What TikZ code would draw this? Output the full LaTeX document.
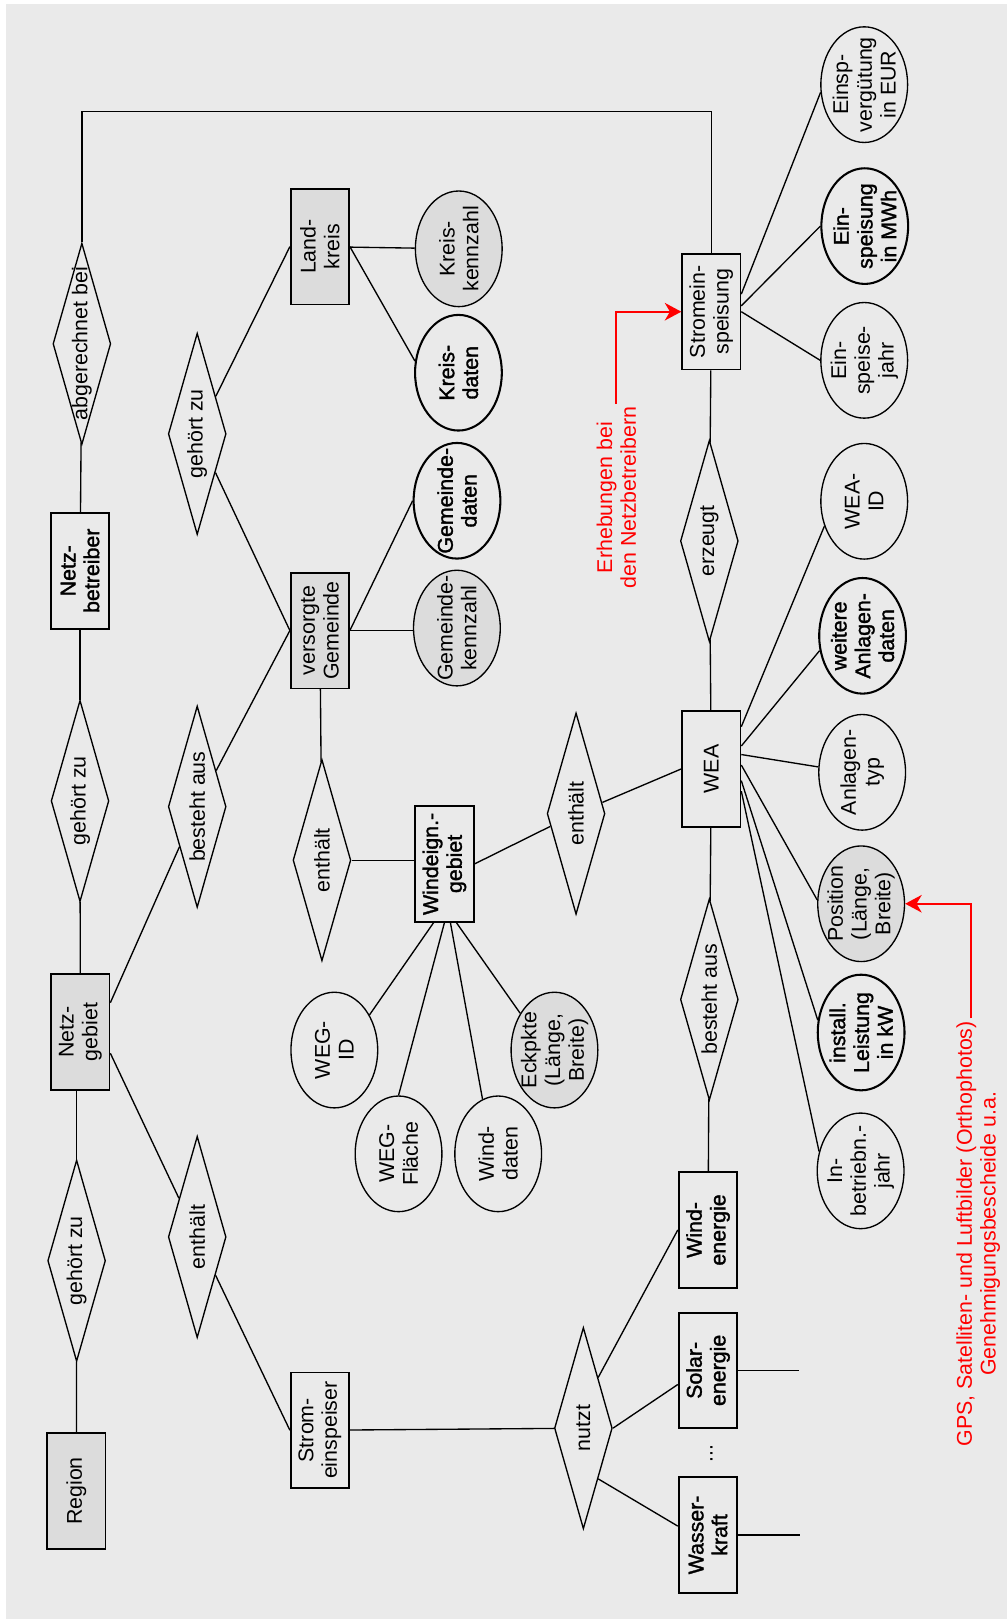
\documentclass[tikz,border=0pt]{standalone}
\usepackage{fontspec}
\setmainfont{Liberation Sans}
\newfontfamily\boldish[FakeBold=1.5]{Liberation Sans}
\usepackage{tikz}
\usetikzlibrary{arrows.meta,shapes.geometric,calc}

\definecolor{canvasgrey}{RGB}{234,234,234}
\definecolor{entitygrey}{RGB}{220,220,220}
\newcommand{\diagramfont}{\fontsize{10.35pt}{11.5pt}\selectfont}
\newcommand{\strongfont}{\fontsize{10.35pt}{11.5pt}\boldish}

\begin{document}
\begin{tikzpicture}[
    rotate=90, transform shape, x=0.5pt, y=-0.5pt,
    font=\diagramfont, line width=0.65pt,
    entity/.style={rectangle, draw, minimum width=56pt, minimum height=28.25pt, inner sep=0pt, align=center, line width=0.8pt},
    strong/.style={line width=1pt, font=\strongfont},
    grey/.style={fill=entitygrey},
    rel/.style={diamond, draw, minimum width=97.5pt, minimum height=28pt, inner sep=0pt, label={center:{#1}}},
    blob/.style={ellipse, draw, minimum width=56pt, minimum height=42pt, inner sep=0pt},
    attr/.style={blob, label={[align=center]center:{#1}}},
    battr/.style={blob, line width=1pt, label={[align=center, font=\strongfont]center:{#1}}},
    note/.style={text=red, align=center, inner sep=1pt},
    source/.style={red, line width=1pt, -{Stealth[length=8pt, width=8.5pt, inset=2.5pt]}}
]
    \useasboundingbox (0,0) rectangle (1568,975);
    \fill[canvasgrey] (0,5.5) rectangle (1564,975);

    % Entities
    \node[entity, grey] (region) at (124,74) {Region};
    \node[entity, grey] (netzgebiet) at (568.4,77.8) {Netz-\\gebiet};
    \node[entity, strong] (netzbetreiber) at (1015.2,77.5) {Netz-\\betreiber};
    \node[entity] (stromeinspeiser) at (182.8,309.8) {Strom-\\einspeiser};
    \node[entity, grey] (gemeinde) at (957.3,309.8) {versorgte\\Gemeinde};
    \node[entity, grey] (landkreis) at (1329.1,309.8) {Land-\\kreis};
    \node[entity, strong] (windeign) at (731.3,430.4) {Windeign.-\\gebiet};
    \node[entity] (wea) at (823.3,688.9) {WEA};
    \node[entity] (einspeisung) at (1266.1,688.9) {Stromein-\\speisung};
    \node[entity, strong] (windenergie) at (376.8,685.7) {Wind-\\energie};
    \node[entity, strong] (solar) at (240.8,685.7) {Solar-\\energie};
    \node[entity, strong] (wasser) at (81.4,685.7) {Wasser-\\kraft};
    \node (mehr) at (160.6,689) {...};

    % Relationships
    \node[rel=gehört zu] (gehoertRegion) at (347,74.2) {};
    \node[rel=gehört zu] (gehoertNetz) at (792.3,77.5) {};
    \node[rel=abgerechnet bei] (abgerechnet) at (1235,79.3) {};
    \node[rel=enthält] (enthaeltNetz) at (370,191) {};
    \node[rel=besteht aus] (bestehtNetz) at (786.7,191) {};
    \node[rel=gehört zu] (gehoertKreis) at (1147.8,191) {};
    \node[rel=enthält] (enthaeltGemeinde) at (734.9,311.8) {};
    \node[rel=enthält] (enthaeltGebiet) at (780,557.9) {};
    \node[rel=erzeugt] (erzeugt) at (1044,687) {};
    \node[rel=besteht aus] (bestehtWEA) at (600,687) {};
    \node[rel=nutzt] (nutzt) at (184.8,565) {};

    % Attributes
    \node[attr={Kreis-\\kennzahl}, grey] (kreiskennzahl) at (1327,444.3) {};
    \node[battr={Kreis-\\daten}] (kreisdaten) at (1207,444) {};
    \node[battr={Gemeinde-\\daten}] (gemeindedaten) at (1083,442.6) {};
    \node[attr={Gemeinde-\\kennzahl}, grey] (gemeindekennzahl) at (959.7,442.5) {};
    \node[attr={WEG-\\ID}] (wegid) at (551,323.8) {};
    \node[attr={WEG-\\Fläche}] (wegflaeche) at (450.5,386) {};
    \node[attr={Wind-\\daten}] (winddaten) at (450.5,482.5) {};
    \node[attr={Eckpkte\\(Länge,\\Breite)}, grey] (eckpunkte) at (551,537) {};
    \node[attr={Einsp-\\vergütung\\in EUR}] (verguetung) at (1486,837) {};
    \node[battr={Ein-\\speisung\\in MWh}] (einspmenge) at (1349,837.5) {};
    \node[attr={Ein-\\speise-\\jahr}] (einspjahr) at (1219,837) {};
    \node[attr={WEA-\\ID}] (weaid) at (1082.5,837) {};
    \node[battr={weitere\\Anlagen-\\daten}] (anlagendaten) at (952.2,835.4) {};
    \node[attr={Anlagen-\\typ}] (anlagentyp) at (820,835) {};
    \node[attr={Position\\(Länge,\\Breite)}, grey] (position) at (692.7,834) {};
    \node[battr={install.\\Leistung\\in kW}] (leistung) at (568,834) {};
    \node[attr={In-\\betriebn.-\\jahr}] (inbetriebnahme) at (434,833.5) {};

    \coordinate (abrechnung) at (1460.3,79.3);
    \coordinate (solarende) at (240.8,773.4);
    \coordinate (wasserende) at (81.4,775.2);

    % Connections
    \draw (region) -- (gehoertRegion);
    \draw (gehoertRegion) -- (gehoertRegion -| netzgebiet.west);
    \draw (netzgebiet) -- (gehoertNetz);
    \draw (gehoertNetz) -- (netzbetreiber);
    \draw (netzbetreiber) -- (abgerechnet);
    \draw (abgerechnet) -- (abrechnung) |- (einspeisung);
    \draw ($(netzgebiet.south)!0.36!(netzgebiet.south west)$) -- (enthaeltNetz);
    \draw (enthaeltNetz) -- (stromeinspeiser.north);
    \draw (stromeinspeiser) -- (nutzt);
    \draw (nutzt.south east) -- (windenergie.north);
    \draw (nutzt.south) -- ($(solar.north)!0.24!(solar.north west)$);
    \draw (nutzt.south west) -- ($(wasser.north)!0.15!(wasser.north east)$);
    \draw (solar) -- (solarende);
    \draw (wasser) -- (wasserende);
    \draw ($(netzgebiet.south)!0.5!(netzgebiet.south east)$) -- (bestehtNetz);
    \draw (bestehtNetz) -- (gemeinde.north);
    \draw (gehoertKreis) -- (gemeinde.north);
    \draw (gehoertKreis) -- (landkreis.north);
    \draw (landkreis) -- (kreiskennzahl);
    \draw (landkreis.south) -- (kreisdaten.75);
    \draw (gemeinde.south) -- (gemeindedaten.north);
    \draw (gemeinde) -- (gemeinde |- gemeindekennzahl.north);
    \draw (gemeinde) -- (enthaeltGemeinde);
    \draw (enthaeltGemeinde) -- (enthaeltGemeinde |- windeign.north);
    \draw ($(windeign.west)!0.36!(windeign.north west)$) -- (wegid.-45);
    \draw (windeign.west) -- (wegflaeche.east);
    \draw ($(windeign.west)!0.2!(windeign.south west)$) -- (winddaten.16);
    \draw ($(windeign.west)!0.4!(windeign.south west)$) -- (eckpunkte.43);
    \draw (windeign.south) -- (enthaeltGebiet);
    \draw (enthaeltGebiet) -- (wea.north);
    \draw (erzeugt) -- (einspeisung);
    \draw (erzeugt) -- (wea);
    \draw (wea) -- (bestehtWEA);
    \draw (bestehtWEA) -- (windenergie);
    \draw ($(einspeisung.south)!0.3!(einspeisung.south east)$) -- (verguetung.100);
    \draw ($(einspeisung.south)!0.1!(einspeisung.south east)$) -- (einspmenge.north);
    \draw (einspeisung.south) -- (einspjahr.north);
    \draw ($(wea.south)!0.72!(wea.south east)$) -- (weaid.122);
    \draw ($(wea.south)!0.39!(wea.south east)$) -- (anlagendaten.109);
    \draw ($(wea.south)!0.245!(wea.south east)$) -- (anlagentyp.83);
    \draw ($(wea.south)!0.066!(wea.south east)$) -- (position.85);
    \draw ($(wea.south)!0.2!(wea.south west)$) -- (leistung.74);
    \draw ($(wea.south)!0.38!(wea.south west)$) -- (inbetriebnahme.65);

    % Data sources
    \node[note] (erhebung) at (1086,597) {Erhebungen bei\\den Netzbetreibern};
    \node[note] (quelle) at (373,947.3) {GPS, Satelliten- und Luftbilder (Orthophotos)\\Genehmigungsbescheide u.a.};
    \draw[source] (erhebung) -| (einspeisung);
    \draw[source] ($(quelle.east)!0.3!(quelle.north east)$) -| (position);

\end{tikzpicture}
\end{document}
